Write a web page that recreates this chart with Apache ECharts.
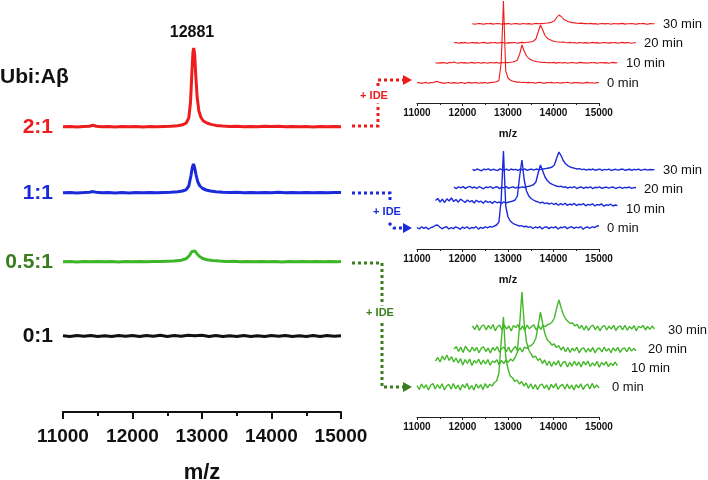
<!DOCTYPE html>
<html><head><meta charset="utf-8">
<script src="https://cdn.jsdelivr.net/npm/echarts@6/dist/echarts.min.js"></script>
<style>html,body{margin:0;padding:0;background:#fff}#c{width:708px;height:480px}</style>
</head><body><div id="c"></div>
<script>
// ---------- DATA ----------
const xTicks = [11000, 12000, 13000, 14000, 15000];
const peakLabel = '12881';
const ratioLabels = ['2:1', '1:1', '0.5:1', '0:1'];
const timeLabels = ['0 min', '10 min', '20 min', '30 min'];

// Main spectra: [m/z, intensity]
const main21 = [[11000,0.3],[11100,0.6],[11200,0],[11300,0.5],[11380,0.8],[11430,1.8],[11480,0.8],[11560,0.3],[11650,0.6],[11750,0.1],[11850,0.5],[11950,0.2],[12050,0.6],[12150,0.1],[12250,0.5],[12350,0.3],[12450,0.6],[12550,0.8],[12650,1.2],[12720,2.2],[12770,3.8],[12810,9],[12835,25],[12855,55],[12870,75],[12881,79],[12895,72],[12910,52],[12930,30],[12955,16],[12985,9.5],[13020,6],[13070,4],[13130,2.6],[13200,1.6],[13300,1.0],[13400,0.6],[13500,0.8],[13600,0.3],[13700,0.6],[13800,0.2],[13900,0.7],[14000,0.4],[14100,0.8],[14200,0.3],[14300,0.6],[14400,0.2],[14500,0.5],[14600,0.1],[14700,0.6],[14800,0.3],[14900,0.5],[15000,0.3]];
const main11 = [[11000,0.2],[11100,0.5],[11200,0],[11300,0.4],[11380,0.8],[11430,1.4],[11480,0.7],[11560,0.2],[11650,0.5],[11750,0],[11850,0.4],[11950,0.1],[12050,0.5],[12150,0.2],[12250,0.4],[12350,0.3],[12450,0.6],[12550,0.8],[12650,1.2],[12720,2.0],[12770,3.2],[12810,7],[12840,17],[12862,26],[12878,29],[12895,25],[12915,18],[12940,11],[12970,7],[13010,4.5],[13060,3],[13120,2],[13200,1.3],[13300,0.8],[13400,0.5],[13500,0.7],[13600,0.3],[13700,0.6],[13800,0.2],[13900,0.5],[14000,0.3],[14100,0.7],[14200,0.2],[14300,0.5],[14400,0.3],[14500,0.6],[14600,0.2],[14700,0.5],[14800,0.3],[14900,0.6],[15000,0.4]];
const main051 = [[11000,0.3],[11100,0.6],[11200,0.1],[11300,0.5],[11400,0.3],[11500,0.6],[11600,0.2],[11700,0.5],[11800,0.1],[11900,0.6],[12000,0.3],[12100,0.5],[12200,0.2],[12300,0.6],[12400,0.4],[12500,0.7],[12600,1.0],[12700,1.8],[12770,3.2],[12820,6.5],[12855,10.5],[12878,12],[12900,11],[12930,8],[12965,5.5],[13010,3.5],[13070,2.3],[13150,1.5],[13250,1.0],[13350,0.6],[13450,0.8],[13550,0.3],[13650,0.6],[13750,0.2],[13850,0.5],[13950,0.3],[14050,0.6],[14150,0.1],[14250,0.5],[14350,0.3],[14450,0.6],[14550,0.2],[14650,0.5],[14750,0.3],[14850,0.6],[14950,0.2],[15000,0.4]];
const main01 = [[11000,0.2],[11100,-0.6],[11200,0.5],[11300,-0.3],[11400,0.6],[11500,-0.5],[11600,0.3],[11700,-0.6],[11800,0.5],[11900,-0.2],[12000,0.6],[12100,-0.5],[12200,0.4],[12300,-0.3],[12400,0.7],[12500,-0.4],[12600,0.5],[12700,-0.2],[12800,0.8],[12900,0.3],[13000,0.7],[13100,-0.4],[13200,0.5],[13300,-0.6],[13400,0.3],[13500,-0.4],[13600,0.6],[13700,-0.5],[13800,0.2],[13900,-0.6],[14000,0.5],[14100,-0.3],[14200,0.6],[14300,-0.5],[14400,0.3],[14500,-0.4],[14600,0.5],[14700,-0.6],[14800,0.4],[14900,-0.3],[15000,0.2]];
// vertical stacking levels of the main spectra (intensity units)
const mainLevels = [285, 219, 150, 76];

// Inset spectra: intensities sampled every 50 m/z from 11000 to 15000
const MZ_START = 11000, MZ_STEP = 50;
const red0 = [0.3,0.5,-0.4,0.2,0.6,-0.3,0.4,0.2,1.2,1.6, 0.6,0.1,-0.4,0.3,0.5,-0.2,0.4,0.1,-0.3,0.5, 0.2,-0.4,0.3,0.6,-0.1,0.2,0.4,-0.3,0.3,0.1, 0.5,-0.2,0.4,0.6,0.8,1.2,2.5,20,82,12, 5,3,2,1.4,0.9,1.0,0.5,0.8,0.3,0.6, 0.2,0.5,-0.2,0.4,0.7,0.1,-0.3,0.4,0.2,0.6, 0,0.3,0.5,-0.2,0.4,0.3,0.8,0.2,-0.2,0.4, 0.5,0.1,0.3,-0.3,0.4,0.6,0,0.3,-0.2,0.4, 0.2];
const red10 = [0.3,-0.3,0.4,0.1,0.5,-0.4,0.6,0.2,1.0,0.3, -0.2,0.5,0.1,0.4,-0.3,0.2,0.6,-0.1,0.3,0.5, -0.2,0.4,0.2,-0.3,0.5,0.3,0.1,0.6,-0.2,0.4, 0.3,0.6,0.2,0.7,1.0,1.6,3,9,18,12, 7,4.5,3.2,2.2,1.6,1.2,0.9,0.5,0.8,0.3, 0.5,0.2,0.6,-0.1,0.4,0.3,0.1,0.5,-0.2,0.3, 0.5,0.2,-0.3,0.4,0.6,0.1,0.3,-0.2,0.5,0.2, 0.4,-0.3,0.3,0.5,0.1,0.4,-0.2,0.3,0.6,0.1, 0.3];
const red20 = [0.2,0.5,-0.2,0.4,0.1,0.6,-0.3,0.3,0.5,0.1, 0.4,-0.2,0.3,0.6,0.1,-0.3,0.4,0.2,0.5,-0.1, 0.3,0.6,0.2,-0.2,0.4,0.1,0.5,0.3,-0.2,0.4, 0.6,0.3,0.7,0.9,1.3,2.0,4,11,18,13, 7.5,4.8,3.4,2.4,1.8,1.3,1.0,0.7,0.9,0.5, 0.3,0.6,0.2,0.4,-0.2,0.5,0.3,0.1,0.4,-0.1, 0.3,0.6,0.1,0.4,-0.2,0.3,0.5,0.2,-0.1,0.4, 0.2,0.5,-0.2,0.3,0.6,0.1,0.4,0.2,-0.3,0.3, 0.2];
const red30 = [0.4,-0.2,0.3,0.5,0.1,-0.3,0.4,0.2,0.6,-0.1, 0.3,0.5,0.2,-0.2,0.4,0.1,0.6,-0.3,0.3,0.4, 0.1,-0.2,0.5,0.3,0.1,0.4,-0.2,0.3,0.6,0.2, 0.4,0.5,0.8,1.0,1.4,2.0,3.2,6.5,9,7.5, 5,3.4,2.5,1.9,1.4,1.1,0.8,0.6,0.9,0.4, 0.5,0.2,0.6,0.1,0.4,-0.2,0.3,0.5,0.1,0.4, 0.2,-0.3,0.5,0.3,0.1,0.4,0.6,-0.1,0.3,0.2, 0.5,0.1,-0.2,0.4,0.3,0.6,0.1,-0.3,0.4,0.2, 0.3];

const blue0 = [0.5,-1.0,1.2,-0.4,0.8,-1.3,0.3,1.0,2.5,3.0, 1.0,-0.8,0.6,1.2,-1.0,0.4,-0.6,1.1,0.2,-1.2, 0.9,-0.3,1.3,-0.8,0.5,0.0,1.4,-1.1,0.6,-0.4, 1.2,0.2,1.5,0.8,2.0,3.0,6,28,77,22, 11,7,5,3.6,2.8,2.0,2.4,1.2,1.8,0.6, 1.3,-0.5,1.0,0.2,1.4,-0.9,0.7,1.1,-0.6,0.9, 0.1,1.3,-1.0,0.8,0.3,1.5,-0.7,0.6,1.2,-0.4, 0.9,0.2,1.4,-1.2,0.5,1.0,-0.3,1.3,0.4,1.8, 2.2];
const blue10 = [5.5,7.5,4.0,6.8,3.5,7.2,5.0,8.0,4.5,6.5, 3.8,6.9,5.2,3.6,6.0,4.2,5.5,3.0,5.8,4.0, 4.8,2.8,5.2,3.6,4.4,2.6,4.8,3.2,4.0,2.4, 4.2,3.0,3.8,4.4,5.0,6.0,10,30,46,26, 15,10,7.5,6.0,4.8,4.2,3.0,3.8,2.4,3.2, 1.8,3.0,1.5,2.6,0.8,2.4,1.2,2.8,0.6,2.0, 1.0,2.6,0.4,1.8,1.2,2.4,0.2,1.6,0.8,2.2, 0.0,1.4,1.0,2.0,-0.2,1.2,0.6,1.8,0.0,1.0, 0.4];
const blue20 = [0.8,-0.6,1.2,0.2,1.4,-0.4,0.9,1.6,0.0,1.1, -0.5,1.3,0.4,-0.8,1.0,0.3,1.5,-0.3,0.7,1.2, -0.6,0.9,0.2,1.4,-0.4,0.6,1.1,-0.2,0.8,0.3, 1.2,0.5,1.4,1.8,2.4,3.5,6,15,23,17, 11,7.5,5.2,3.8,2.8,2.0,1.4,1.8,0.6,1.2, -0.2,0.9,0.3,1.3,-0.5,0.6,1.0,-0.3,0.8,0.2, 1.2,-0.6,0.7,0.3,1.1,-0.4,0.5,0.9,-0.2,0.6, 1.0,-0.5,0.4,0.8,-0.3,0.6,0.2,1.0,-0.4,0.3, 0.5];
const blue30 = [0.6,-0.5,1.0,0.2,-0.8,0.9,0.3,1.2,-0.3,0.7, 0.1,-0.6,1.1,0.4,-0.2,0.8,-0.5,1.0,0.2,0.6, -0.4,0.9,0.1,1.2,-0.3,0.5,0.8,-0.2,1.0,0.3, 0.6,1.0,1.4,1.8,2.2,3.0,5,12,18,14, 9,6,4.2,3.0,2.2,1.6,1.0,1.4,0.4,0.9, -0.2,0.7,0.2,1.0,-0.4,0.5,0.8,-0.3,0.6,0.1, 0.9,-0.5,0.4,0.7,-0.2,0.5,1.0,-0.3,0.3,0.8, -0.4,0.6,0.2,0.9,-0.3,0.4,0.7,-0.1,0.5,0.2, 0.4];

const green0 = [1.5,-2.5,3.0,-1.0,2.2,-3.0,1.8,3.4,-2.0,2.5, -1.5,3.2,-2.8,1.0,2.8,-2.2,3.5,-1.8,2.0,-3.2, 2.6,-0.8,3.6,-2.4,1.5,-3.0,3.0,-1.2,2.4,-2.6, 3.4,-1.0,2.8,1.0,4.5,6.0,14,45,70,30, 18,11,9,5.5,7.0,3.0,5.5,1.0,4.0,-1.5, 3.2,-2.0,2.5,-2.8,1.8,3.0,-1.5,2.2,-3.0,2.8, -1.0,3.4,-2.5,1.2,2.6,-2.2,3.0,-1.6,2.0,-3.0, 2.4,-0.8,3.2,-2.6,1.4,2.8,-2.0,3.6,-1.2,2.2, -1.0];
const green10 = [3.0,6.5,2.0,8.0,4.0,9.0,3.5,7.5,2.0,6.0, 1.0,5.5,-1.0,4.5,0.5,5.0,-1.5,3.5,1.0,4.8, -0.5,3.8,0.0,4.5,-1.2,3.0,1.5,4.2,-1.0,3.6, 0.5,4.0,1.8,5.0,3.0,6.5,12,40,72,40, 22,14,10,6.5,8.0,3.5,5.5,0.5,4.0,-1.5, 3.0,-2.5,2.2,-1.0,3.4,-2.8,1.5,2.6,-3.0,1.8, -2.2,2.8,-1.5,2.0,-3.0,2.5,-0.8,3.0,-2.5,1.2, -1.8,2.6,-3.2,1.5,-1.0,2.4,-2.6,0.8,-1.5,2.0, -2.0];
const green20 = [1.0,3.5,-1.5,2.8,-2.5,3.8,0.5,-2.0,3.0,-1.0, 2.5,-2.8,1.8,3.2,-1.5,2.0,-3.0,2.6,-0.5,3.4, -2.2,1.5,2.8,-1.8,3.0,-2.5,1.0,3.6,-1.2,2.2, -2.0,3.0,1.5,3.8,4.5,7.0,12,24,38,26, 16,10,8.0,5.0,6.0,2.5,4.5,0.0,3.2,-1.8, 2.5,-2.5,1.8,-1.0,2.8,-2.8,1.2,2.2,-2.2,1.5, -1.8,2.6,-2.8,1.0,2.0,-2.0,2.8,-1.2,1.5,-2.6, 2.2,-1.0,2.6,-2.4,1.2,2.0,-1.8,2.8,-1.0,1.6, -0.8];
const green30 = [2.0,-1.5,3.2,-2.5,1.8,3.0,-2.0,2.6,-1.0,3.5, -2.8,1.5,2.8,-2.2,3.2,-1.2,2.0,-3.0,2.5,0.5, 3.4,-1.8,2.2,-2.6,3.0,-0.8,1.6,3.2,-2.0,2.4, -1.4,2.8,1.2,3.5,4.2,6.0,10,20,28,20, 13,9,6.5,4.5,5.0,2.0,3.6,-0.5,2.8,-2.0, 2.2,-2.4,1.5,2.8,-1.6,2.0,-2.8,1.2,2.5,-2.0, 1.8,-1.2,2.6,-2.5,1.0,2.2,-1.8,2.8,-2.2,1.4, -1.0,2.4,-2.6,1.8,0.2,2.6,-2.0,1.5,-1.4,2.2, -1.2];

// ---------- LAYOUT / STYLE ----------
const FONT = 'Liberation Sans, Arial, sans-serif';
const RED = '#ee1c1c', BLUE = '#1c2bd9', GREEN = '#45b82a', DGREEN = '#3a7d1c';
const mainColors = [RED, BLUE, '#3fb52a', '#111'];
const labelColors = [RED, BLUE, DGREEN, '#111'];

const insets = [
  { color: RED, width: 1.1, axisY: 103, offs: [20, 40, 60, 79], traces: [red0, red10, red20, red30], showName: true,
    labelPos: [[607,83],[626,63],[644,43],[663,24]] },
  { color: BLUE, width: 1.4, axisY: 249, offs: [21, 43, 61, 79], traces: [blue0, blue10, blue20, blue30], showName: true,
    labelPos: [[607,228],[626,209],[644,189],[663,170]] },
  { color: GREEN, width: 1.4, axisY: 417, offs: [30, 53, 67, 89], traces: [green0, green10, green20, green30], showName: false,
    labelPos: [[612,387],[631,368],[648,349],[668,330]] }
];
const INSET_LEFT = 417, INSET_W = 182, INSET_DX = 18.5, INSET_H = 130;

const toPairs = arr => arr.map((v, i) => [MZ_START + i * MZ_STEP, v]);
const tickFmt = v => xTicks.includes(v) ? String(v) : '';

const grids = [], xAxes = [], yAxes = [], series = [];
// main chart
grids.push({ left: 63, top: 30, width: 278, height: 382, containLabel: false, outerBoundsMode: 'none' });
xAxes.push({
  type: 'value', gridIndex: 0, min: 11000, max: 15000, interval: 1000,
  axisLine: { onZero: false, lineStyle: { color: '#111', width: 2 } },
  axisTick: { length: 7, lineStyle: { width: 2, color: '#111' } },
  minorTick: { show: true, splitNumber: 2, length: 4, lineStyle: { width: 2, color: '#111' } },
  splitLine: { show: false },
  axisLabel: { fontSize: 19, fontWeight: 'bold', color: '#111', margin: 15, fontFamily: FONT, formatter: tickFmt },
  name: 'm/z', nameLocation: 'middle', nameGap: 50,
  nameTextStyle: { fontSize: 22, fontWeight: 'bold', color: '#111', fontFamily: FONT }
});
yAxes.push({ type: 'value', gridIndex: 0, min: 0, max: 382, show: false });
[main21, main11, main051, main01].forEach((d, i) => {
  series.push({
    type: 'line', xAxisIndex: 0, yAxisIndex: 0, symbol: 'none', clip: false, animation: false,
    lineStyle: { color: mainColors[i], width: 3 },
    data: d.map(p => [p[0], p[1] + mainLevels[i]])
  });
});

// insets
insets.forEach(ins => {
  [3, 2, 1, 0].forEach(k => {
    const gi = grids.length;
    const bottomPix = ins.axisY - (ins.offs[k] - ins.offs[0]);
    grids.push({ left: INSET_LEFT + k * INSET_DX, top: bottomPix - INSET_H, width: INSET_W, height: INSET_H,
      containLabel: false, outerBoundsMode: 'none' });
    const showAxis = k === 0;
    xAxes.push({
      type: 'value', gridIndex: gi, min: 11000, max: 15000, interval: 1000, show: showAxis,
      axisLine: { onZero: false, lineStyle: { color: '#222', width: 1 } },
      axisTick: { length: 3, lineStyle: { color: '#222' } },
      minorTick: { show: true, splitNumber: 2, length: 2, lineStyle: { color: '#222' } },
      splitLine: { show: false },
      axisLabel: { fontSize: 10, fontWeight: 'bold', color: '#111', margin: 5, fontFamily: FONT, formatter: tickFmt },
      name: showAxis && ins.showName ? 'm/z' : '', nameLocation: 'middle', nameGap: 25,
      nameTextStyle: { fontSize: 11, fontWeight: 'bold', color: '#111', fontFamily: FONT }
    });
    yAxes.push({ type: 'value', gridIndex: gi, min: -ins.offs[0], max: INSET_H - ins.offs[0], show: false });
    series.push({
      type: 'line', xAxisIndex: gi, yAxisIndex: gi, symbol: 'none', clip: false, animation: false,
      lineStyle: { color: ins.color, width: ins.width },
      data: toPairs(ins.traces[k])
    });
  });
});

// annotations
const graphic = [];
const txt = (x, y, text, font, fill, align) => ({ type: 'text', x, y, z: 100,
  style: { text, font, fill, textAlign: align || 'left', textVerticalAlign: 'middle' } });
graphic.push(txt(0, 77, 'Ubi:Aβ', 'bold 21px ' + FONT, '#111'));
const ratioY = [127, 193, 262, 336];
ratioLabels.forEach((t, i) => graphic.push(txt(53, ratioY[i], t, 'bold 21px ' + FONT, labelColors[i], 'right')));
graphic.push(txt(192, 33, peakLabel, 'bold 16px ' + FONT, '#111', 'center'));
insets.forEach(ins => ins.labelPos.forEach((p, k) => graphic.push(txt(p[0], p[1], timeLabels[k], '13px ' + FONT, '#111'))));

const dotted = (pts, color) => ({ type: 'polyline', z: 90, shape: { points: pts },
  style: { stroke: color, lineWidth: 3, lineDash: [3, 3], fill: null } });
const head = (x, y, color) => ({ type: 'polygon', z: 90, shape: { points: [[x - 9, y - 5], [x, y], [x - 9, y + 5]] }, style: { fill: color } });
const ideTxt = (x, y, color) => ({ type: 'text', x, y, z: 95,
  style: { text: '+ IDE', font: 'bold 11px ' + FONT, fill: color, textAlign: 'center', textVerticalAlign: 'middle',
    backgroundColor: '#fff', padding: [2, 1] } });
// red
graphic.push(dotted([[352,126],[378,126],[378,80],[403,80]], RED), head(412, 80, RED), ideTxt(374, 96, RED));
// blue
graphic.push(dotted([[352,193],[390,193],[390,201]], BLUE), dotted([[389,223],[394,228],[403,228]], BLUE), head(412, 228, BLUE), ideTxt(387, 212, BLUE));
// green
graphic.push(dotted([[352,263],[382,263],[382,387],[403,387]], DGREEN), head(412, 387, DGREEN), ideTxt(380, 313, DGREEN));

const chart = echarts.init(document.getElementById('c'), null, { renderer: 'canvas' });
chart.setOption({
  animation: false, backgroundColor: '#fff',
  grid: grids, xAxis: xAxes, yAxis: yAxes, series, graphic
});
</script></body></html>
